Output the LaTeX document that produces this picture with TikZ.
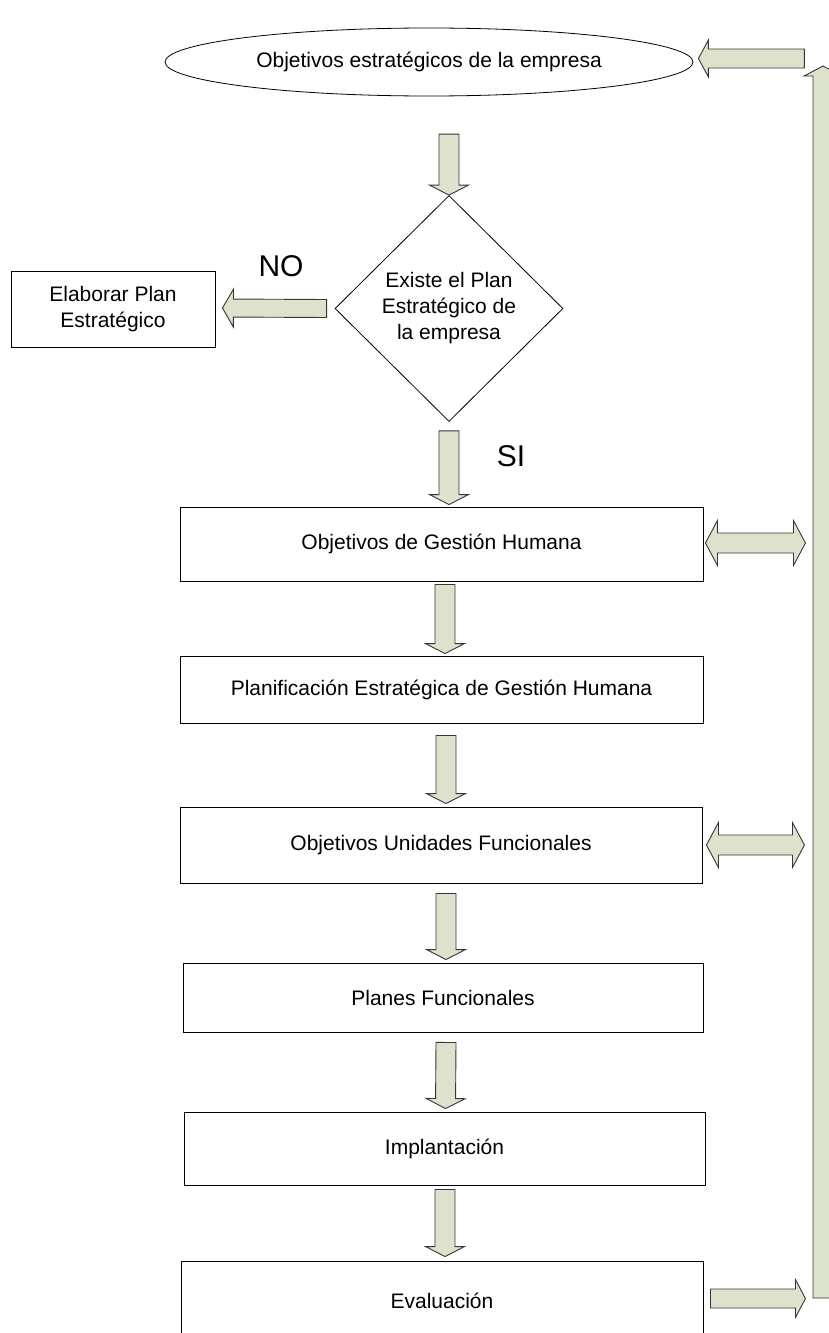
\documentclass[tikz,border=0pt]{standalone}
\usepackage{fontspec}
\setmainfont{Liberation Sans}
\usetikzlibrary{calc,shapes.geometric}

\definecolor{arrowfill}{RGB}{221,226,205}
\definecolor{arrowline}{RGB}{55,55,55}

\tikzset{
  txt/.style={font=\fontsize{21}{26}\selectfont, align=center},
  box/.style={txt, draw=black, line width=0.9pt, fill=white, inner sep=0pt},
  bigtag/.style={font=\fontsize{30}{32}\selectfont, inner sep=0pt},
  blockarrow/.style={fill=arrowfill, draw=arrowline, line width=0.9pt, line join=miter},
}

% block arrow: #1 shaft half width, #2 head half width, #3 head length, #4 start, #5 tip
\newcommand\singlearrow[5]{%
  \coordinate (sa-h) at ($(#5)!#3!(#4)$);
  \filldraw[blockarrow]
    ($(#4)!#1!90:(#5)$) -- ($(sa-h)!#1!90:(#5)$) -- ($(sa-h)!#2!90:(#5)$) -- (#5)
    -- ($(sa-h)!#2!-90:(#5)$) -- ($(sa-h)!#1!-90:(#5)$) -- ($(#4)!#1!-90:(#5)$) -- cycle;
}
% block arrow with a head at each end
\newcommand\doublearrow[5]{%
  \coordinate (da-a) at ($(#4)!#3!(#5)$);
  \coordinate (da-b) at ($(#5)!#3!(#4)$);
  \filldraw[blockarrow]
    (#4) -- ($(da-a)!#2!90:(#5)$) -- ($(da-a)!#1!90:(#5)$) -- ($(da-b)!#1!90:(#5)$)
    -- ($(da-b)!#2!90:(#5)$) -- (#5) -- ($(da-b)!#2!-90:(#5)$) -- ($(da-b)!#1!-90:(#5)$)
    -- ($(da-a)!#1!-90:(#5)$) -- ($(da-a)!#2!-90:(#5)$) -- cycle;
}

\begin{document}
\begin{tikzpicture}[x=1pt, y=-1pt]
  \useasboundingbox (0,0) rectangle (829,1333);
  \fill[white] (0,0) rectangle (829,1333);
  \clip (0,0) rectangle (829,1333);

  % shapes of the flow
  \node[txt, draw=black, line width=0.8pt, ellipse, minimum width=528pt, minimum height=68pt, inner sep=0pt]
    (top) at (429,62) {Objetivos estratégicos de la empresa};
  \node[txt, draw=black, line width=0.8pt, diamond, minimum width=228pt, minimum height=226pt, inner sep=0pt]
    (dec) at (449,308.5) {Existe el Plan\\Estratégico de\\la empresa};
  \node[box, minimum width=204pt, minimum height=76pt] (elab) at (113,309) {Elaborar Plan\\Estratégico};

  \node[box, minimum width=523pt, minimum height=74pt] (b1) at (441.5,544) {Objetivos de Gestión Humana};
  \node[box, minimum width=523pt, minimum height=67pt] (b2) at (441.5,689.5) {Planificación Estratégica de Gestión Humana};
  \node[box, minimum width=522pt, minimum height=76pt] (b3) at (441,845) {Objetivos Unidades Funcionales};
  \node[box, minimum width=520pt, minimum height=69pt] (b4) at (443,997.5) {Planes Funcionales};
  \node[box, minimum width=521pt, minimum height=73pt] (b5) at (444.5,1148.5) {Implantación};
  \node[box, minimum width=522pt, minimum height=80pt] (b6) at (442,1301) {Evaluación};

  \node[bigtag] (no) at (281,266) {NO};
  \node[bigtag] (si) at (511,456) {SI};

  % arrow end points
  \coordinate (a1s) at ($(dec.north)+(0,-61)$);
  \coordinate (a2s) at ($(dec.south)+(0,9)$);
  \coordinate (a2e) at ($(dec.south |- b1.north)+(0,-2)$);
  \coordinate (a3s) at ($(b1.south)+(3.5,3)$);
  \coordinate (a3e) at ($(b2.north)+(3.5,-2)$);
  \coordinate (a4s) at ($(b2.south)+(4.5,12)$);
  \coordinate (a4e) at ($(b3.north)+(5,-3)$);
  \coordinate (a5s) at ($(b3.south)+(5,10)$);
  \coordinate (a5e) at ($(b4.north)+(3,-3)$);
  \coordinate (a6s) at ($(b4.south)+(3,10)$);
  \coordinate (a6e) at ($(b5.north)+(1,-3)$);
  \coordinate (a7s) at ($(b5.south)+(0.5,4)$);
  \coordinate (a7e) at ($(b6.north)+(3,-4)$);
  \coordinate (nos) at ($(dec.west)+(-8,0)$);
  \coordinate (noe) at ($(elab.east)+(7,-1)$);
  \coordinate (ret-bottom) at (823,1298);
  \coordinate (ret-top) at (823,66);
  \coordinate (tops) at ($(top.east)+(111,-3.5)$);
  \coordinate (tope) at ($(top.east)+(5,-3.5)$);
  \coordinate (evs) at ($(b6.east)+(7,-2.5)$);
  \coordinate (eve) at ($(b6.east)+(102,-2.5)$);
  \coordinate (d1s) at ($(b1.east)+(2,-1)$);
  \coordinate (d1e) at ($(b1.east)+(102,-1)$);
  \coordinate (d2s) at ($(b3.east)+(4,0)$);
  \coordinate (d2e) at ($(b3.east)+(102,0)$);

  % block arrows
  \singlearrow{10pt}{19.5pt}{10pt}{a1s}{dec.north}
  \singlearrow{10pt}{19.5pt}{10pt}{a2s}{a2e}
  \singlearrow{10pt}{19.5pt}{10pt}{a3s}{a3e}
  \singlearrow{10pt}{19.5pt}{10pt}{a4s}{a4e}
  \singlearrow{10pt}{19.5pt}{10pt}{a5s}{a5e}
  \singlearrow{10pt}{19.5pt}{10pt}{a6s}{a6e}
  \singlearrow{10pt}{19.5pt}{10pt}{a7s}{a7e}
  \singlearrow{9pt}{19pt}{11pt}{nos}{noe}
  \singlearrow{10pt}{19pt}{10pt}{ret-bottom}{ret-top}
  \singlearrow{9.5pt}{18.5pt}{10pt}{tops}{tope}
  \singlearrow{9.5pt}{19pt}{10pt}{evs}{eve}
  \doublearrow{10pt}{22.5pt}{12pt}{d1s}{d1e}
  \doublearrow{10pt}{22.5pt}{12pt}{d2s}{d2e}
\end{tikzpicture}
\end{document}
